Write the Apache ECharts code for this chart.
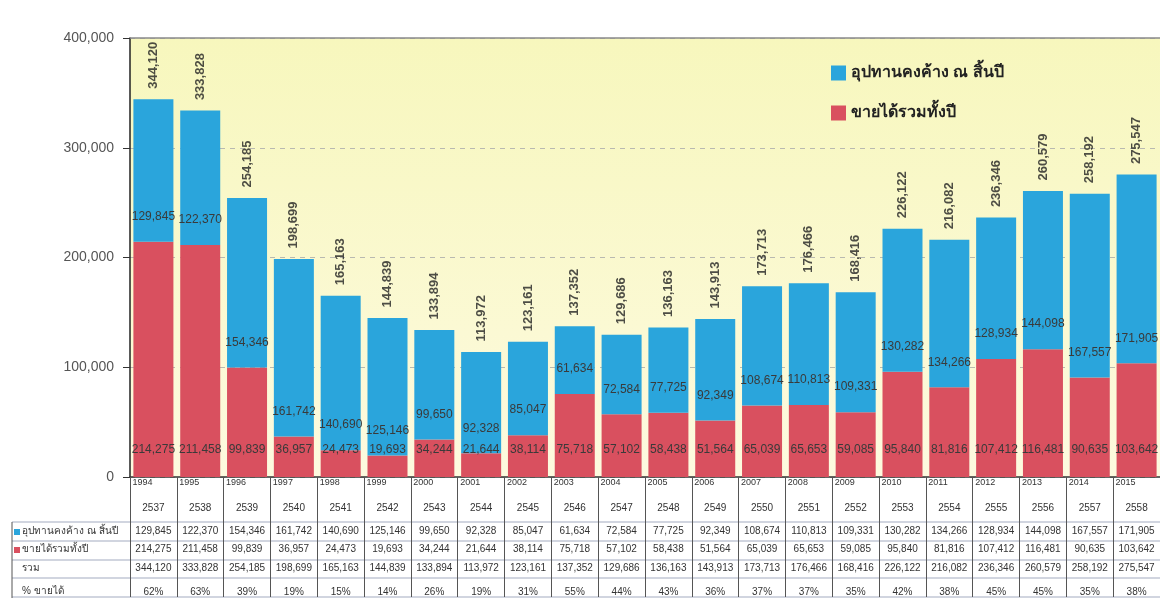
<!DOCTYPE html>
<html>
<head>
<meta charset="utf-8">
<script src="https://cdn.jsdelivr.net/npm/echarts@6/dist/echarts.min.js"></script>
<style>
html, body { margin: 0; padding: 0; background: #fff; }
#barChart { width: 1160px; height: 598px; }
</style>
</head>
<body>
<div id="barChart"></div>
<script>
var byId = function(id){
	return document.getElementById(id);
};

// ปี ค.ศ. / พ.ศ.
var years = ['1994','1995','1996','1997','1998','1999','2000','2001','2002','2003','2004','2005','2006','2007','2008','2009','2010','2011','2012','2013','2014','2015'];
var yearsBE = ['2537','2538','2539','2540','2541','2542','2543','2544','2545','2546','2547','2548','2549','2550','2551','2552','2553','2554','2555','2556','2557','2558'];
// อุปทานคงค้าง ณ สิ้นปี
var supply = [129845,122370,154346,161742,140690,125146,99650,92328,85047,61634,72584,77725,92349,108674,110813,109331,130282,134266,128934,144098,167557,171905];
// ขายได้รวมทั้งปี
var sold = [214275,211458,99839,36957,24473,19693,34244,21644,38114,75718,57102,58438,51564,65039,65653,59085,95840,81816,107412,116481,90635,103642];
// รวม
var totals = [344120,333828,254185,198699,165163,144839,133894,113972,123161,137352,129686,136163,143913,173713,176466,168416,226122,216082,236346,260579,258192,275547];
// % ขายได้
var soldPct = ['62%','63%','39%','19%','15%','14%','26%','19%','31%','55%','44%','43%','36%','37%','37%','35%','42%','38%','45%','45%','35%','38%'];
var yTicks = [0, 100000, 200000, 300000, 400000];

var nameSupply = 'อุปทานคงค้าง ณ สิ้นปี';
var nameSold = 'ขายได้รวมทั้งปี';
var blue = '#2aa5dc';
var red = '#d9505f';
var font = 'Liberation Sans, Arial, Noto Sans, sans-serif';

var fmt = function(v){
	return Number(v).toLocaleString('en-US');
};

// แถวของตาราง (แกน x เพิ่มเติม)
var tableRow = function(data, off){
	return {
		type: 'category',
		gridIndex: 0,
		position: 'bottom',
		offset: off,
		data: data,
		axisLine: {show: false},
		axisTick: {show: false},
		axisLabel: {interval: 0, margin: 0, fontSize: 10, lineHeight: 12, color: '#333', fontFamily: font}
	};
};

var hLine = function(y){
	return {type: 'line', shape: {x1: 12, y1: y, x2: 1160, y2: y}, style: {stroke: '#a3abc0', lineWidth: 1}, silent: true};
};
var rowText = function(txt, y){
	return {type: 'text', left: 22, top: y - 6, style: {text: txt, fontSize: 10, fill: '#333', fontFamily: font}, silent: true};
};
var rowMark = function(c, y){
	return {type: 'rect', shape: {x: 14, y: y - 3, width: 6, height: 6}, style: {fill: c}, silent: true};
};

var chartOption = {
	animation: false,
	textStyle: {fontFamily: font},
	legend: {
		data: [nameSupply, nameSold],
		orient: 'vertical',
		left: 826,
		top: 60,
		itemWidth: 15,
		itemHeight: 15,
		itemGap: 24,
		icon: 'rect',
		textStyle: {fontSize: 16, fontWeight: 'bold', color: '#222'}
	},
	grid: {
		left: 130,
		top: 38,
		width: 1034,
		bottom: 120,
		show: true,
		borderWidth: 0,
		backgroundColor: {
			type: 'linear', x: 0, y: 0, x2: 0, y2: 1,
			colorStops: [{offset: 0, color: '#f7f7bd'}, {offset: 1, color: '#fdfadf'}]
		}
	},
	xAxis: [{
		type: 'category',
		data: years,
		axisLine: {lineStyle: {color: '#333', width: 1.5}},
		axisTick: {show: true, length: 120, lineStyle: {color: '#555'}},
		axisLabel: {
			interval: 0, margin: 1, fontSize: 9, color: '#333',
			formatter: function(v){ return '{y|' + v + '}'; },
			rich: {y: {width: 42, align: 'left', fontSize: 9, color: '#333'}}
		}
	},
	tableRow(yearsBE, 25),
	tableRow(supply.map(fmt), 48),
	tableRow(sold.map(fmt), 66),
	tableRow(totals.map(fmt), 85),
	tableRow(soldPct, 109),
	{
		// เส้นขอบบน
		type: 'category',
		position: 'top',
		data: years,
		axisLine: {lineStyle: {color: '#8a8a8a', width: 1.5}},
		axisTick: {show: false},
		axisLabel: {show: false}
	}],
	yAxis: [{
		type: 'value',
		min: yTicks[0],
		max: yTicks[yTicks.length - 1],
		interval: 100000,
		axisLine: {show: true, lineStyle: {color: '#222', width: 1.5}},
		axisTick: {show: true, length: 7, lineStyle: {color: '#333'}},
		axisLabel: {margin: 16, fontSize: 14, color: '#555', formatter: fmt},
		splitLine: {lineStyle: {color: '#b9b9b0', type: [5, 5]}}
	}],
	series: [{
		name: nameSold,
		type: 'bar',
		stack: 'all',
		barWidth: 40,
		data: sold,
		itemStyle: {color: red},
		label: {show: true, position: 'insideBottom', distance: 21, fontSize: 12, color: '#3a3a3a', formatter: function(p){ return fmt(p.value); }}
	}, {
		name: nameSupply,
		type: 'bar',
		stack: 'all',
		barWidth: 40,
		data: supply,
		itemStyle: {color: blue},
		label: {show: true, position: 'insideBottom', distance: 19, fontSize: 12, color: '#3a3a3a', formatter: function(p){ return fmt(p.value); }}
	}, {
		name: 'รวม',
		type: 'scatter',
		data: totals,
		symbolSize: 1,
		itemStyle: {color: 'transparent'},
		silent: true,
		z: 5,
		label: {
			show: true, position: 'top', distance: 10, rotate: 90, align: 'left', verticalAlign: 'middle',
			fontSize: 13, fontWeight: 'bold', color: '#222', formatter: function(p){ return fmt(p.value); }
		}
	}],
	graphic: [
		hLine(522), hLine(541), hLine(560), hLine(578), hLine(597),
		{type: 'line', shape: {x1: 12, y1: 522, x2: 12, y2: 598}, style: {stroke: '#555', lineWidth: 1}, silent: true},
		rowMark(blue, 532), rowText(nameSupply, 532),
		rowMark(red, 550), rowText(nameSold, 550),
		rowText('รวม', 569),
		rowText('% ขายได้', 592)
	]
};

var barChart = echarts.init(byId('barChart'));
barChart.setOption(chartOption);
</script>
</body>
</html>
